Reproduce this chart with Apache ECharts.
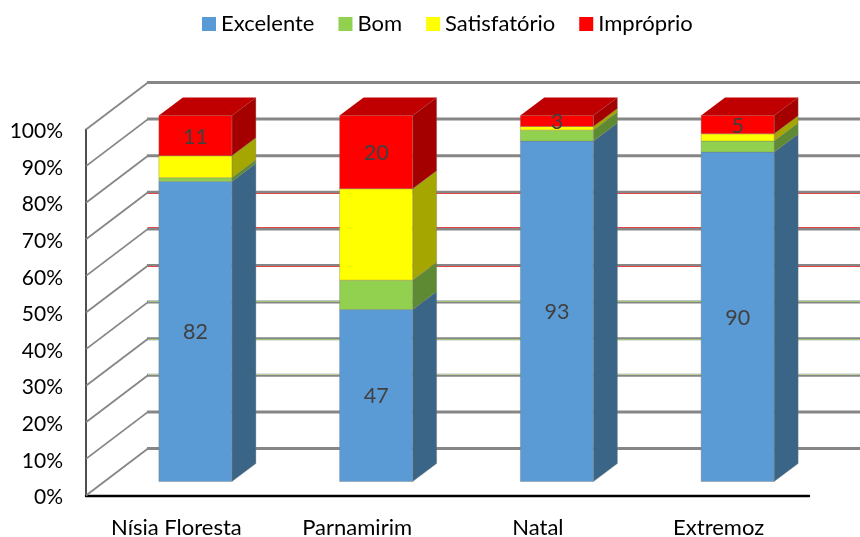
<!DOCTYPE html>
<html>
<head>
<meta charset="utf-8">
<style>html,body{margin:0;padding:0;background:#fff}#chart{width:860px;height:537px}</style>
<script src="https://cdn.jsdelivr.net/npm/echarts@6/dist/echarts.min.js"></script>
</head>
<body>
<div id="chart"></div>
<script>
// Water quality classes per beach, stacked to 100%
const categories = ['Nísia Floresta', 'Parnamirim', 'Natal', 'Extremoz'];
const excelente = [82, 47, 93, 90];
const bom = [1, 8, 3, 3];
const satisfatorio = [6, 25, 1, 2];
const improprio = [11, 20, 3, 5];
const percentTicks = [0, 10, 20, 30, 40, 50, 60, 70, 80, 90, 100];
// Thin coloured edge on some back-wall lines: [tick, colour, side of the line]
const wallTints = [[70, '#e0484a', 1], [60, '#e0484a', -1], [50, '#e0484a', 1], [40, '#9cc878', -1], [30, '#9cc878', 1], [20, '#b4cf9a', -1]];

// Oblique projection of the chart box
const WALL_DX = 62, WALL_DY = -47;       // front plane to back wall
const BAR_SHIFT_X = 19, BAR_SHIFT_Y = -14; // front plane to bar face
const BAR_DX = 24, BAR_DY = -18;         // bar depth
const BAR_RATIO = 0.404;
const FONT = 'Lato, Carlito, sans-serif';
const EDGE = 'rgba(120,120,110,0.45)';

const stackOrder = [
  { name: 'Excelente', values: excelente, face: '#5B9BD5', side: '#3A6587', labelled: true, pad: 6 },
  { name: 'Bom', values: bom, face: '#92D050', side: '#5F8A34', labelled: false, pad: 8 },
  { name: 'Satisfatório', values: satisfatorio, face: '#FFFF00', side: '#A6A600', labelled: false, pad: 7 },
  { name: 'Impróprio', values: improprio, face: '#FF0000', side: '#A50000', top: '#C00000', labelled: true, pad: 0 }
];

// Cumulative [category, from, to, value] rows for one stack layer
function layerRows(layerIndex) {
  return categories.map((_, c) => {
    let base = 0;
    for (let k = 0; k < layerIndex; k++) base += stackOrder[k].values[c];
    const v = stackOrder[layerIndex].values[c];
    return [c, base, base + v, v];
  });
}

function barRenderer(layer) {
  return function (params, api) {
    const p0 = api.coord([api.value(0), api.value(1)]);
    const p1 = api.coord([api.value(0), api.value(2)]);
    const w = api.size([1, 0])[0] * BAR_RATIO;
    const cx = p0[0] + BAR_SHIFT_X;
    const xl = cx - w / 2, xr = cx + w / 2;
    const yb = p0[1] + BAR_SHIFT_Y, yt = p1[1] + BAR_SHIFT_Y;
    const children = [
      { type: 'polygon', shape: { points: [[xr, yb], [xr + BAR_DX, yb + BAR_DY], [xr + BAR_DX, yt + BAR_DY], [xr, yt]] },
        style: { fill: layer.side, stroke: EDGE, lineWidth: 0.8 } },
      { type: 'rect', shape: { x: xl, y: yt, width: w, height: yb - yt },
        style: { fill: layer.face, stroke: EDGE, lineWidth: 0.8 } }
    ];
    if (layer.top) {
      children.push({ type: 'polygon', shape: { points: [[xl, yt], [xl + BAR_DX, yt + BAR_DY], [xr + BAR_DX, yt + BAR_DY], [xr, yt]] },
        style: { fill: layer.top } });
    }
    if (layer.labelled) {
      children.push({ type: 'text', style: { text: String(api.value(3)), x: cx, y: (yt + yb) / 2 + 1,
        align: 'center', verticalAlign: 'middle', fill: '#404040', font: '21.5px ' + FONT } });
    }
    return { type: 'group', children };
  };
}

// Walls: slanted line on the side wall, long line on the back wall
function wallRenderer(params, api) {
  const x0 = params.coordSys.x;
  const tick = api.value(0);
  const y = api.coord([0, tick])[1];
  const bx = x0 + WALL_DX, by = y + WALL_DY;
  const children = [
    { type: 'line', shape: { x1: x0, y1: y, x2: bx, y2: by }, style: { stroke: '#868686', lineWidth: 1.8 } },
    { type: 'line', shape: { x1: bx - 1, y1: by, x2: api.getWidth(), y2: by }, style: { stroke: '#868686', lineWidth: 3 } }
  ];
  const tint = wallTints.find(t => t[0] === tick);
  if (tint) {
    const ty = Math.floor(by + tint[2]) + 0.5;
    children.push({ type: 'line', shape: { x1: bx, y1: ty, x2: api.getWidth(), y2: ty }, style: { stroke: tint[1], lineWidth: 1 } });
  }
  return { type: 'group', children };
}

const series = [{
  name: 'walls', type: 'custom', silent: true, z: 1,
  data: percentTicks.map(t => [t]), encode: { y: 0 }, renderItem: wallRenderer
}].concat(stackOrder.map((layer, i) => ({
  name: layer.name, type: 'custom', z: 5 + i,
  itemStyle: { color: layer.face },
  data: layerRows(i), encode: { x: 0, y: [1, 2] }, renderItem: barRenderer(layer)
})));

const chart = echarts.init(document.getElementById('chart'), null, { renderer: 'canvas' });
chart.setOption({
  animation: false,
  backgroundColor: '#fff',
  legend: {
    data: stackOrder.map(l => ({ name: l.name, textStyle: { padding: [0, l.pad, 0, 0] } })),
    left: 202, top: 13, padding: 0, icon: 'rect', itemWidth: 14, itemHeight: 14, itemGap: 24,
    textStyle: { fontFamily: FONT, fontSize: 22, color: '#000' },
    selectedMode: false
  },
  grid: { left: 86, top: 129.5, width: 723, height: 366, containLabel: false, outerBoundsMode: 'none' },
  xAxis: {
    type: 'category', data: categories,
    axisLine: { lineStyle: { color: '#000', width: 2.4 } }, axisTick: { show: false },
    axisLabel: { color: '#000', fontFamily: FONT, fontSize: 22, margin: 21 }
  },
  yAxis: {
    type: 'value', min: 0, max: 100, interval: 10,
    axisLine: { show: true, lineStyle: { color: '#222', width: 1.6 } }, axisTick: { show: false },
    splitLine: { show: false },
    axisLabel: { color: '#000', fontFamily: FONT, fontSize: 21, margin: 23, verticalAlign: 'top', lineHeight: 4, formatter: '{value}%' }
  },
  series
});
</script>
</body>
</html>
